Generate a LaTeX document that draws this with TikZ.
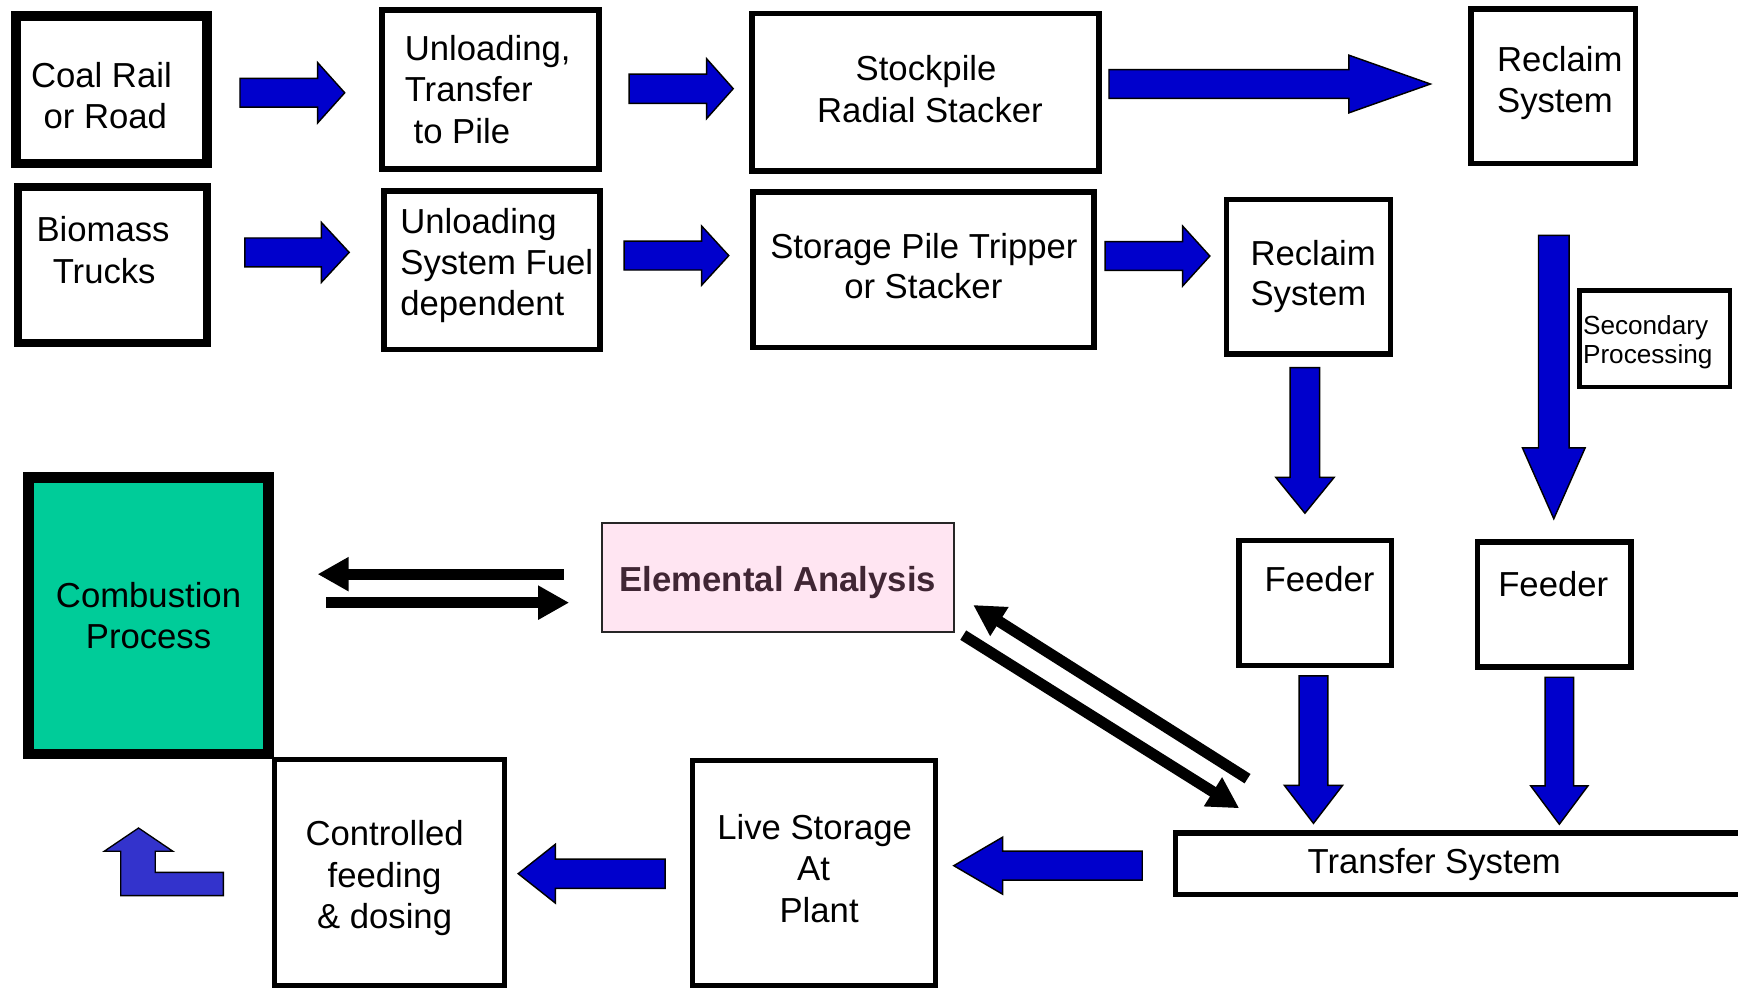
\documentclass[tikz,border=0pt]{standalone}
\usepackage{fontspec}
\setmainfont{Liberation Sans}
\usetikzlibrary{arrows.meta}
\definecolor{bblue}{RGB}{0,0,204}
\definecolor{lblue}{RGB}{51,51,204}
\definecolor{combc}{RGB}{0,204,153}
\definecolor{pinkc}{RGB}{255,229,242}
\definecolor{eatext}{RGB}{64,38,52}
\newcommand\BArrow[7]{%
\begin{scope}[shift={(#1,#2)},rotate=#3]
\filldraw[barrow] (0,-#6) -- (#4-#5,-#6) -- (#4-#5,-#7) -- (#4,0) -- (#4-#5,#7) -- (#4-#5,#6) -- (0,#6) -- cycle;
\end{scope}}
\tikzset{
  barrow/.style={fill=bblue, draw=black, line width=1.3pt, line join=miter},
  box/.style={draw=black, line width=5pt, fill=white, inner sep=0pt, rectangle},
  lbl/.style={anchor=base, inner sep=0pt, font=\fontsize{31.3}{38}\selectfont},
  lblL/.style={lbl, anchor=base west},
  small/.style={anchor=base west, inner sep=0pt, font=\fontsize{23.6}{28}\selectfont},
  blk/.style={line width=10pt, -{Triangle[length=28pt,width=29pt]}}
}
\begin{document}
\begin{tikzpicture}[x=1pt,y=-1pt]
\useasboundingbox (0,0) rectangle (1568,892.3);
% boxes
\node[box, line width=9pt, minimum width=172, minimum height=133] (coal) at (100.5,81) {};
\node[box, line width=7.5pt, minimum width=170.5, minimum height=140.5] (bio) at (101.5,239) {};
\node[box, minimum width=196, minimum height=143.4] (unl1) at (442.5,80.8) {};
\node[box, minimum width=195, minimum height=143] (unl2) at (444,244) {};
\node[box, minimum width=313, minimum height=142.3] (stock) at (835,83.35) {};
\node[box, minimum width=307.5, minimum height=140.3] (stor) at (833.25,243.15) {};
\node[box, minimum width=148.5, minimum height=139.6] (rec1) at (1401.25,77.7) {};
\node[box, minimum width=148, minimum height=139.6] (rec2) at (1180.5,249.7) {};
\node[box, line width=4pt, minimum width=136, minimum height=87] (sec) at (1493,305.5) {};
\node[box, minimum width=137.5, minimum height=113] (fd1) at (1186.75,544) {};
\node[box, minimum width=138.5, minimum height=112.9] (fd2) at (1402.25,545.45) {};
\node[box, minimum width=559.5, minimum height=55.7] (trans) at (1340.25,779.15) {};
\node[box, line width=1.8pt, draw=black!85, fill=pinkc, minimum width=318.2, minimum height=98.4] (ea) at (702,520.7) {};
\node[box, line width=4.5pt, minimum width=207.6, minimum height=203.9] (ctrl) at (351.45,786.8) {};
\node[box, line width=4.5pt, minimum width=219, minimum height=202.5] (live) at (734.25,787.5) {};
\node[box, line width=9.5pt, fill=combc, minimum width=216.5, minimum height=249.5] (comb) at (134,555.5) {};
% texts
\node[lbl] (t1) at (91.5,79) {Coal Rail};
\node[lbl] (t2) at (95,116) {or Road};
\node[lbl] (t3) at (93,218) {Biomass};
\node[lbl] (t4) at (94,255.5) {Trucks};
\node[lblL] (t5) at (365,55) {Unloading,};
\node[lblL] (t6) at (365,92) {Transfer};
\node[lblL] (t7) at (373,129.3) {to Pile};
\node[lblL] (t8) at (361,210.5) {Unloading};
\node[lblL] (t9) at (361,248) {System Fuel};
\node[lblL] (t10) at (361,284.5) {dependent};
\node[lbl] (t11) at (835.5,73) {Stockpile};
\node[lbl] (t12) at (839,110.7) {Radial Stacker};
\node[lbl] (t13) at (833.5,233) {Storage Pile Tripper};
\node[lbl] (t14) at (833,269.5) {or Stacker};
\node[lblL] (t15) at (1350.5,64.7) {Reclaim};
\node[lblL] (t16) at (1350.5,101.6) {System};
\node[lblL] (t17) at (1128,239.7) {Reclaim};
\node[lblL] (t18) at (1128,276) {System};
\node[small] (t19) at (1428,301.4) {Secondary};
\node[small] (t20) at (1428,327.8) {Processing};
\node[lbl] (t21) at (1190.5,533.7) {Feeder};
\node[lbl] (t22) at (1401.3,538) {Feeder};
\node[lbl] (t23) at (1294,788) {Transfer System};
\node[lbl, font=\fontsize{31.3}{38}\selectfont\bfseries, text=eatext] (t24) at (701.8,533.8) {Elemental Analysis};
\node[lbl] (t25) at (134,548) {Combustion};
\node[lbl] (t26) at (134,585.5) {Process};
\node[lbl] (t27) at (347,763) {Controlled};
\node[lbl] (t28) at (347,800.5) {feeding};
\node[lbl] (t29) at (347,837.5) {\& dosing};
\node[lbl] (t30) at (735,757) {Live Storage};
\node[lbl] (t31) at (734,794.5) {At};
\node[lbl] (t32) at (739,832) {Plant};
% blue block arrows
\BArrow{216.5}{83.7}{0}{94.5}{24.5}{13}{27.3}
\BArrow{567.5}{80}{0}{94}{24}{13.2}{27}
\BArrow{221}{227.7}{0}{94}{25}{13}{27}
\BArrow{563}{230.6}{0}{94.5}{24.5}{13}{26.7}
\BArrow{1000.5}{75.8}{0}{290}{73.5}{13}{26}
\BArrow{997}{231}{0}{94.5}{24.5}{13}{27}
\BArrow{1177.3}{331.7}{-90}{131.3}{32.3}{13.3}{26.3}
\BArrow{1401.8}{212.3}{-90}{255.7}{64}{13.8}{28.3}
\BArrow{1185}{609.8}{-90}{133}{34.3}{13}{26.3}
\BArrow{1406.8}{611}{-90}{132.6}{34.6}{12.8}{25.8}
\BArrow{600}{788.2}{180}{132.5}{33.5}{13.2}{26.5}
\BArrow{1030.5}{781}{180}{170}{44}{13.1}{25.7}
% bent up arrow
\filldraw[fill=lblue, draw=black, line width=1.2pt, line join=miter]
  (125,747) -- (156,768) -- (140,768) -- (140,787) -- (201.5,787) -- (201.5,808)
  -- (109,808) -- (109,768) -- (94,768) -- cycle;
% black arrows
\coordinate (b1s) at (508.5,518);
\coordinate (b1e) at (286.5,518);
\coordinate (b2s) at (294.5,543.7);
\coordinate (b2e) at (513.5,543.7);
\coordinate (b3s) at (1125.5,702.5);
\coordinate (b3e) at (878,545.8);
\coordinate (b4s) at (869,573);
\coordinate (b4e) at (1118,729.2);
\draw[blk] (b1s) -- (b1e);
\draw[blk] (b2s) -- (b2e);
\draw[blk] (b3s) -- (b3e);
\draw[blk] (b4s) -- (b4e);
\end{tikzpicture}
\end{document}
